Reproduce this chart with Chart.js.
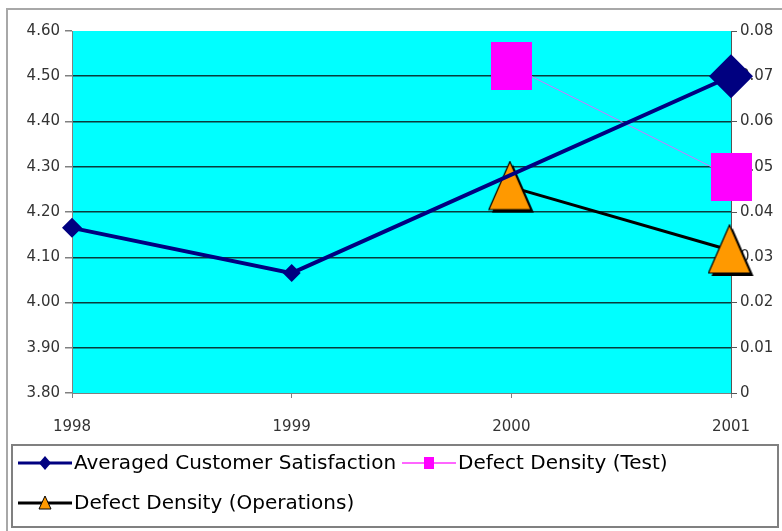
<!DOCTYPE html>
<html>
<head>
<meta charset="utf-8">
<script src="https://cdn.jsdelivr.net/npm/chart.js@4"></script>
<style>
  body { margin: 0; background: #fff; }
  canvas { display: block; }
</style>
</head>
<body>
<canvas id="chart" width="782" height="531"></canvas>
<script>
// values
const years = ['1998', '1999', '2000', '2001'];
const satisfaction = [4.165, 4.065, null, 4.50];
const densityTest = [null, null, 0.0722, 0.0478];
const densityOps = [null, null, 0.0455, 0.0315];

const seriesNames = [
    'Averaged Customer Satisfaction',
    'Defect Density (Test)',
    'Defect Density (Operations)'
];

const fontName = '"DejaVu Sans", "Liberation Sans", Arial, sans-serif';

// marker images
function makeSquare(w, h, color) {
    let c = document.createElement('canvas');
    c.width = w;
    c.height = h;
    let g = c.getContext('2d');
    g.fillStyle = color;
    g.fillRect(0, 0, w, h);
    return c;
}

function makeTriangle(w, h) {
    let c = document.createElement('canvas');
    c.width = w + 3;
    c.height = h + 3;
    let g = c.getContext('2d');
    const tri = (dx, dy) => {
        g.beginPath();
        g.moveTo(w / 2 + dx, 1 + dy);
        g.lineTo(w - 1 + dx, h - 1 + dy);
        g.lineTo(1 + dx, h - 1 + dy);
        g.closePath();
    };
    g.fillStyle = '#000';
    tri(3, 3);
    g.fill();
    g.fillStyle = '#FF9900';
    g.strokeStyle = '#000';
    g.lineWidth = 1.2;
    tri(0, 0);
    g.fill();
    g.stroke();
    return c;
}

const squareBig = makeSquare(41, 48, '#FF00FF');
const triangleBig = makeTriangle(44, 50);

const plotBackground = {
    id: 'plotBackground',
    beforeDraw(chart) {
        const {ctx, chartArea} = chart;
        ctx.save();
        // outer frame
        ctx.strokeStyle = '#A8A8A8';
        ctx.lineWidth = 2;
        ctx.strokeRect(7, 9, 820, 600);
        ctx.fillStyle = '#00FFFF';
        ctx.fillRect(chartArea.left, chartArea.top, chartArea.right - chartArea.left, chartArea.bottom - chartArea.top);
        ctx.restore();
    }
};

const boxLegend = {
    id: 'boxLegend',
    afterDraw(chart) {
        const ctx = chart.ctx;
        const ds = chart.data.datasets;
        ctx.save();
        ctx.strokeStyle = '#808080';
        ctx.lineWidth = 2;
        ctx.strokeRect(12, 445, 766, 82);

        const items = [
            {x: 18, y: 463, ds: ds[0], marker: 'diamond'},
            {x: 402, y: 463, ds: ds[1], marker: 'square'},
            {x: 18, y: 503, ds: ds[2], marker: 'triangle'}
        ];
        items.forEach(item => {
            const mid = item.x + 27;
            ctx.strokeStyle = item.marker === 'square' ? '#FF66FF' : item.ds.borderColor;
            ctx.lineWidth = item.marker === 'square' ? 2 : 3;
            ctx.beginPath();
            ctx.moveTo(item.x, item.y);
            ctx.lineTo(item.x + 54, item.y);
            ctx.stroke();
            if (item.marker === 'diamond') {
                ctx.fillStyle = '#000080';
                ctx.beginPath();
                ctx.moveTo(mid, item.y - 7);
                ctx.lineTo(mid + 6, item.y);
                ctx.lineTo(mid, item.y + 7);
                ctx.lineTo(mid - 6, item.y);
                ctx.closePath();
                ctx.fill();
            } else if (item.marker === 'square') {
                ctx.fillStyle = '#FF00FF';
                ctx.fillRect(mid - 5, item.y - 6, 10, 12);
            } else {
                ctx.fillStyle = '#FF9900';
                ctx.strokeStyle = '#000';
                ctx.lineWidth = 1;
                ctx.beginPath();
                ctx.moveTo(mid, item.y - 7);
                ctx.lineTo(mid + 6, item.y + 6);
                ctx.lineTo(mid - 6, item.y + 6);
                ctx.closePath();
                ctx.fill();
                ctx.stroke();
            }
            ctx.fillStyle = '#000';
            ctx.font = '20px ' + fontName;
            ctx.textBaseline = 'middle';
            ctx.textAlign = 'left';
            ctx.fillText(item.ds.label, item.x + 56, item.y + 1);
        });
        ctx.restore();
    }
};

const tickFont = {family: fontName, size: 15};

new Chart(document.getElementById('chart'), {
    type: 'line',
    data: {
        labels: years,
        datasets: [
            {
                label: seriesNames[0],
                data: satisfaction,
                yAxisID: 'y',
                borderColor: '#000080',
                backgroundColor: '#000080',
                borderWidth: 4,
                pointStyle: 'rectRot',
                pointRadius: [10, 9, 0, 22],
                pointBorderWidth: 0,
                spanGaps: true,
                clip: false
            },
            {
                label: seriesNames[1],
                data: densityTest,
                yAxisID: 'y2',
                borderColor: '#CC77FF',
                backgroundColor: '#FF00FF',
                borderWidth: 1,
                pointStyle: squareBig,
                clip: false
            },
            {
                label: seriesNames[2],
                data: densityOps,
                yAxisID: 'y2',
                borderColor: '#000000',
                backgroundColor: '#FF9900',
                borderWidth: 3,
                pointStyle: triangleBig,
                clip: false
            }
        ]
    },
    options: {
        responsive: false,
        animation: false,
        devicePixelRatio: 1,
        layout: {padding: {top: 31, left: 0, right: 0, bottom: 0}},
        plugins: {
            legend: {display: false},
            tooltip: {enabled: false}
        },
        scales: {
            x: {
                offset: false,
                grid: {drawOnChartArea: false, tickLength: 5, color: '#808080'},
                border: {color: '#808080', width: 1},
                ticks: {font: tickFont, color: '#333', padding: 20, maxRotation: 0, autoSkip: false},
                afterFit(scale) { scale.height = 138; }
            },
            y: {
                position: 'left',
                min: 3.8,
                max: 4.6,
                ticks: {
                    stepSize: 0.1,
                    font: tickFont,
                    color: '#333',
                    padding: 5,
                    callback: v => v.toFixed(2)
                },
                grid: {
                    color: c => (c.tick && c.tick.value > 3.81 && c.tick.value < 4.59) ? '#083c3c' : 'rgba(0,0,0,0)',
                    lineWidth: 1.5,
                    tickColor: '#808080',
                    tickLength: 7
                },
                border: {color: '#808080', width: 1},
                afterFit(scale) { scale.width = 72; }
            },
            y2: {
                position: 'right',
                min: 0,
                max: 0.08,
                ticks: {
                    stepSize: 0.01,
                    font: tickFont,
                    color: '#333',
                    padding: 3,
                    callback: v => v === 0 ? '0' : v.toFixed(2)
                },
                grid: {drawOnChartArea: false, tickColor: '#555', tickLength: 6},
                border: {color: '#555', width: 1},
                afterFit(scale) { scale.width = 51; }
            }
        }
    },
    plugins: [plotBackground, boxLegend]
});
</script>
</body>
</html>
